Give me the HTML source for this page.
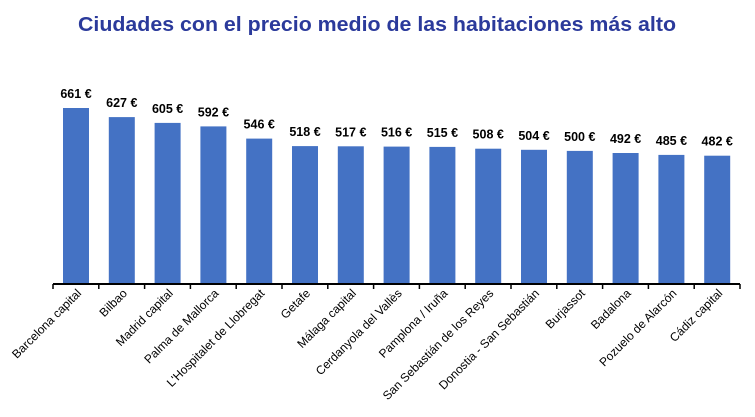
<!DOCTYPE html>
<html><head><meta charset="utf-8"><style>
html,body{margin:0;padding:0;background:#fff;}
svg{display:block;font-family:"Liberation Sans",sans-serif;}
</style></head><body>
<svg width="755" height="417" viewBox="0 0 755 417" xmlns="http://www.w3.org/2000/svg">
<text x="377" y="31" text-anchor="middle" font-size="20" font-weight="bold" fill="#2b3a9b" textLength="598" lengthAdjust="spacingAndGlyphs">Ciudades con el precio medio de las habitaciones más alto</text>
<g fill="#4472c4">
<rect x="63" y="108" width="26" height="176"/>
<rect x="108.8" y="117.1" width="26" height="166.9"/>
<rect x="154.6" y="122.9" width="26" height="161.1"/>
<rect x="200.4" y="126.4" width="26" height="157.6"/>
<rect x="246.2" y="138.6" width="26" height="145.4"/>
<rect x="292" y="146.1" width="26" height="137.9"/>
<rect x="337.8" y="146.3" width="26" height="137.7"/>
<rect x="383.6" y="146.6" width="26" height="137.4"/>
<rect x="429.4" y="146.9" width="26" height="137.1"/>
<rect x="475.2" y="148.7" width="26" height="135.3"/>
<rect x="521" y="149.8" width="26" height="134.2"/>
<rect x="566.8" y="150.9" width="26" height="133.1"/>
<rect x="612.6" y="153" width="26" height="131"/>
<rect x="658.4" y="154.9" width="26" height="129.1"/>
<rect x="704.2" y="155.7" width="26" height="128.3"/>
</g>
<g font-size="12.5" font-weight="bold" fill="#000" text-anchor="middle">
<text x="76" y="98">661 €</text>
<text x="121.8" y="107.1">627 €</text>
<text x="167.6" y="112.9">605 €</text>
<text x="213.4" y="116.4">592 €</text>
<text x="259.2" y="128.6">546 €</text>
<text x="305" y="136.1">518 €</text>
<text x="350.8" y="136.3">517 €</text>
<text x="396.6" y="136.6">516 €</text>
<text x="442.4" y="136.9">515 €</text>
<text x="488.2" y="138.7">508 €</text>
<text x="534" y="139.8">504 €</text>
<text x="579.8" y="140.9">500 €</text>
<text x="625.6" y="143">492 €</text>
<text x="671.4" y="144.9">485 €</text>
<text x="717.2" y="145.7">482 €</text>
</g>
<line x1="53" y1="284" x2="740" y2="284" stroke="#000" stroke-width="2"/>
<g stroke="#000" stroke-width="1.5">
<line x1="53" y1="284" x2="53" y2="289"/><line x1="98.8" y1="284" x2="98.8" y2="289"/><line x1="144.6" y1="284" x2="144.6" y2="289"/><line x1="190.4" y1="284" x2="190.4" y2="289"/><line x1="236.2" y1="284" x2="236.2" y2="289"/><line x1="282" y1="284" x2="282" y2="289"/><line x1="327.8" y1="284" x2="327.8" y2="289"/><line x1="373.6" y1="284" x2="373.6" y2="289"/><line x1="419.4" y1="284" x2="419.4" y2="289"/><line x1="465.2" y1="284" x2="465.2" y2="289"/><line x1="511" y1="284" x2="511" y2="289"/><line x1="556.8" y1="284" x2="556.8" y2="289"/><line x1="602.6" y1="284" x2="602.6" y2="289"/><line x1="648.4" y1="284" x2="648.4" y2="289"/><line x1="694.2" y1="284" x2="694.2" y2="289"/><line x1="740" y1="284" x2="740" y2="289"/>
</g>
<g font-size="12" fill="#000" text-anchor="end">
<text x="82" y="294" transform="rotate(-45 82 294)">Barcelona capital</text>
<text x="127.8" y="294" transform="rotate(-45 127.8 294)">Bilbao</text>
<text x="173.6" y="294" transform="rotate(-45 173.6 294)">Madrid capital</text>
<text x="219.4" y="294" transform="rotate(-45 219.4 294)">Palma de Mallorca</text>
<text x="265.2" y="294" transform="rotate(-45 265.2 294)">L'Hospitalet de Llobregat</text>
<text x="311" y="294" transform="rotate(-45 311 294)">Getafe</text>
<text x="356.8" y="294" transform="rotate(-45 356.8 294)">Málaga capital</text>
<text x="402.6" y="294" transform="rotate(-45 402.6 294)">Cerdanyola del Vallès</text>
<text x="448.4" y="294" transform="rotate(-45 448.4 294)">Pamplona / Iruña</text>
<text x="494.2" y="294" transform="rotate(-45 494.2 294)">San Sebastián de los Reyes</text>
<text x="540" y="294" transform="rotate(-45 540 294)">Donostia - San Sebastián</text>
<text x="585.8" y="294" transform="rotate(-45 585.8 294)">Burjassot</text>
<text x="631.6" y="294" transform="rotate(-45 631.6 294)">Badalona</text>
<text x="677.4" y="294" transform="rotate(-45 677.4 294)">Pozuelo de Alarcón</text>
<text x="723.2" y="294" transform="rotate(-45 723.2 294)">Cádiz capital</text>
</g>
</svg>
</body></html>
